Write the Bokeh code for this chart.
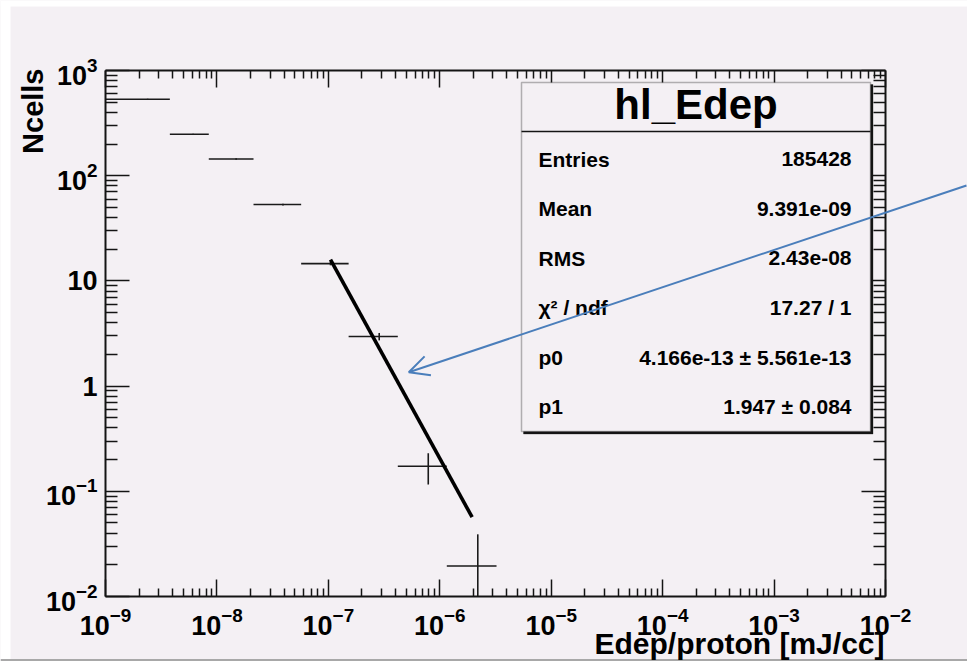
import math
from bokeh.plotting import figure
from bokeh.models import (FixedTicker, LogAxis, Label, BoxAnnotation, Arrow,
                          OpenHead, ColumnDataSource)
from bokeh.embed import file_html
from bokeh.resources import INLINE

# ---------------- data ----------------
bin_lo = [1.0e-9, 3.78e-9, 8.45e-9, 2.13e-8, 5.70e-8, 1.52e-7, 4.20e-7, 1.156e-6]
bin_hi = [3.78e-9, 8.45e-9, 2.13e-8, 5.70e-8, 1.52e-7, 4.20e-7, 1.156e-6, 3.23e-6]
ncells = [533, 248, 144, 53.2, 14.6, 2.96, 0.173, 0.0195]
ncells_err = [4.5, 3.1, 2.4, 1.0, 0.53, 0.24, 0.057, 0.0195]

fit_x = [1.045e-7, 1.95e-6]
fit_y = [15.9, 0.0568]

x_decades = [-9, -8, -7, -6, -5, -4, -3, -2]
y_decades = [-2, -1, 0, 1, 2, 3]

stats_title = "hl_Edep"
stats_names = ["Entries", "Mean", "RMS", "χ² / ndf", "p0", "p1"]
stats_values = ["185428", "9.391e-09", "2.43e-08", "17.27 / 1",
                "4.166e-13 ± 5.561e-13", "1.947 ± 0.084"]
x_title = "Edep/proton [mJ/cc]"
y_title = "Ncells"

# ---------------- layout ----------------
BG = "#f4f0f4"
INK = "#141414"
FONT = "Liberation Sans"
W, H = 967, 661
FL, FR, FT, FB = 105, 885, 70, 596  # plot box edges on the canvas (px)

XMIN, XMAX = 10.0 ** x_decades[0], 10.0 ** x_decades[-1]
YMIN, YMAX = 10.0 ** y_decades[0], 10.0 ** y_decades[-1]


def ax(px):
    """canvas pixel x -> data x (for placing annotations only)"""
    lx = math.log10(XMIN) + (px - FL) / (FR - FL) * (math.log10(XMAX) - math.log10(XMIN))
    return 10 ** lx


def ay(py):
    """canvas pixel y (from top) -> data y (for placing annotations only)"""
    ly = math.log10(YMAX) - (py - FT) / (FB - FT) * (math.log10(YMAX) - math.log10(YMIN))
    return 10 ** ly


# the frame covers the whole canvas; the axes sit at fixed locations so that
# texts and the arrow outside the plotted box are not clipped
p = figure(width=W, height=H, x_axis_type="log", y_axis_type="log",
           x_range=(ax(0), ax(W)), y_range=(ay(H), ay(0)),
           output_backend="svg", toolbar_location=None, min_border=0,
           background_fill_color=BG, border_fill_color=BG)
p.grid.visible = False
p.outline_line_color = None

x_major = [10.0 ** k for k in x_decades]
x_minor = [m * 10.0 ** k for k in x_decades[:-1] for m in range(2, 10)]
y_major = [10.0 ** k for k in y_decades]
y_minor = [m * 10.0 ** k for k in y_decades[:-1] for m in range(2, 10)]

p.add_layout(LogAxis(), "above")
p.add_layout(LogAxis(), "right")

p.below[0].fixed_location = YMIN
p.above[0].fixed_location = YMAX
p.left[0].fixed_location = XMIN
p.right[0].fixed_location = XMAX

for axis in p.xaxis:
    axis.ticker = FixedTicker(ticks=x_major, minor_ticks=x_minor)
    axis.bounds = (XMIN, XMAX)
    axis.major_tick_in = 17
    axis.major_tick_out = 0
    axis.minor_tick_in = 8
    axis.minor_tick_out = 0
for axis in p.yaxis:
    axis.ticker = FixedTicker(ticks=y_major, minor_ticks=y_minor)
    axis.bounds = (YMIN, YMAX)
    axis.major_tick_in = 24
    axis.major_tick_out = 0
    axis.minor_tick_in = 12
    axis.minor_tick_out = 0
for axis in list(p.xaxis) + list(p.yaxis):
    axis.axis_line_color = INK
    axis.axis_line_width = 2
    axis.major_tick_line_color = INK
    axis.major_tick_line_width = 1.5
    axis.minor_tick_line_color = INK
    axis.minor_tick_line_width = 1.5
    axis.major_label_text_font = FONT
    axis.major_label_text_font_style = "bold"
    axis.major_label_text_font_size = "27px"
    axis.major_label_text_color = "#000000"

for axis in (p.above[0], p.right[0]):
    axis.major_label_text_color = None
    axis.major_label_text_font_size = "10px"
    axis.major_label_standoff = 0
p.below[0].major_label_standoff = 10
p.left[0].major_label_standoff = 8
p.left[0].major_label_overrides = {10: "10", 1: "1"}

# ---------------- histogram (bins + errors) ----------------
xc = [(a + b) / 2 for a, b in zip(bin_lo, bin_hi)]
e_lo = [max(v - e, YMIN) for v, e in zip(ncells, ncells_err)]   # clipped to the plot box
e_hi = [v + e for v, e in zip(ncells, ncells_err)]
src = ColumnDataSource(dict(lo=[max(v, XMIN) for v in bin_lo], hi=bin_hi, y=ncells,
                            xc=xc, elo=e_lo, ehi=e_hi))
p.segment(x0="lo", y0="y", x1="hi", y1="y", source=src, line_color="#1a1a1a", line_width=1.6)
p.segment(x0="xc", y0="elo", x1="xc", y1="ehi", source=src, line_color="#1a1a1a", line_width=1.6)

# fit line
p.line(fit_x, fit_y, line_color="#000000", line_width=3.6)

# ---------------- page edges of the original screenshot ----------------
p.add_layout(BoxAnnotation(left=None, right=ax(10), top=None, bottom=None,
                           fill_color="white", fill_alpha=1, line_color=None))
p.add_layout(BoxAnnotation(left=None, right=None, top=None, bottom=ay(6),
                           fill_color="white", fill_alpha=1, line_color=None))
p.add_layout(BoxAnnotation(left=None, right=None, top=ay(658.5), bottom=None,
                           fill_color="#a8a8a8", fill_alpha=1, line_color=None))

# ---------------- stats box ----------------
BX0, BX1, BY0, BY1 = 521, 870, 82, 431
p.add_layout(BoxAnnotation(left=ax(BX0 + 2), right=ax(BX1 + 2.5), top=ay(BY0 + 2),
                           bottom=ay(BY1 + 2.5), fill_color=INK, fill_alpha=1,
                           line_color=INK, line_width=1))
p.add_layout(BoxAnnotation(left=ax(BX0), right=ax(BX1), top=ay(BY0), bottom=ay(BY1),
                           fill_color=BG, fill_alpha=1, line_color=INK, line_width=1.5))
p.add_layout(Arrow(start=None, end=None, x_start=ax(BX0), x_end=ax(BX1),
                   y_start=ay(BY0 + 49), y_end=ay(BY0 + 49),
                   line_color=INK, line_width=1.5))
p.add_layout(Label(x=ax((BX0 + BX1) / 2), y=ay(119 - 0.35 * 42), text=stats_title,
                   text_font=FONT, text_font_style="bold", text_font_size="42px",
                   text_align="center", text_baseline="middle", text_color="#000000"))
for i, (nm, vl) in enumerate(zip(stats_names, stats_values)):
    ym = ay(166 + 49.5 * i - 0.35 * 21)
    p.add_layout(Label(x=ax(538), y=ym, text=nm, text_font=FONT, text_font_style="bold",
                       text_font_size="21px", text_align="left", text_baseline="middle",
                       text_color="#000000"))
    p.add_layout(Label(x=ax(851), y=ym, text=vl, text_font=FONT, text_font_style="bold",
                       text_font_size="21px", text_align="right", text_baseline="middle",
                       text_color="#000000"))

# ---------------- axis titles ----------------
p.add_layout(Label(x=ax(884), y=ay(653 - 0.35 * 30), text=x_title,
                   text_font=FONT, text_font_style="bold", text_font_size="30px",
                   text_align="right", text_baseline="middle", text_color="#000000"))
p.add_layout(Label(x=ax(43 - 0.35 * 29), y=ay(68), text=y_title,
                   text_font=FONT, text_font_style="bold", text_font_size="29px",
                   text_align="right", text_baseline="middle", angle=math.pi / 2,
                   text_color="#000000"))

# ---------------- blue arrow ----------------
p.add_layout(Arrow(end=OpenHead(size=20, line_color="#4a7ebb", line_width=2),
                   x_start=ax(966), y_start=ay(185), x_end=ax(408.3), y_end=ay(371.7),
                   line_color="#4a7ebb", line_width=2))

open("out.html", "w").write(file_html(p, INLINE))
